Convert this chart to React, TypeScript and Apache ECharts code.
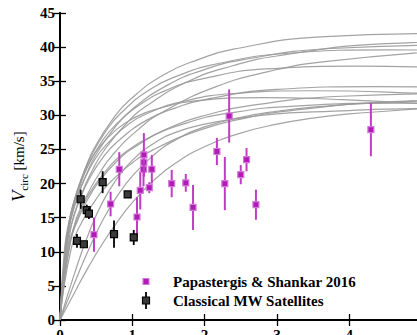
import React, { useEffect, useRef } from "react";
import * as echarts from "echarts";

// Rotation curves: [radius kpc, Vcirc km/s] pairs
const CURVE_1 = [[0,0],[0.12,13.8],[0.24,18.9],[0.36,22.5],[0.48,25.3],[0.72,29.3],[0.96,32.2],[1.44,36.0],[1.92,38.2],[2.4,39.7],[3.6,41.5],[5.18,42.0]];
const CURVE_2 = [[0,0],[0.15,13.5],[0.3,18.5],[0.45,22.0],[0.6,24.7],[0.9,28.6],[1.2,31.4],[1.8,35.1],[2.4,37.3],[3.0,38.7],[4.5,40.5],[6.48,41.0]];
const CURVE_3 = [[0,0],[0.125,13.3],[0.25,18.2],[0.375,21.6],[0.5,24.3],[0.75,28.1],[1.0,30.9],[1.5,34.5],[2.0,36.7],[2.5,38.1],[3.75,39.8],[5.4,40.3]];
const CURVE_4 = [[0,0],[0.18,13.2],[0.36,18.0],[0.54,21.4],[0.72,24.1],[1.08,27.9],[1.44,30.6],[2.16,34.2],[2.88,36.4],[3.6,37.8],[5.4,39.5]];
const CURVE_5 = [[0,0],[0.105,13.0],[0.21,17.9],[0.315,21.2],[0.42,23.8],[0.63,27.6],[0.84,30.3],[1.26,33.9],[1.68,36.0],[2.1,37.4],[3.15,39.1],[4.54,39.6],[6.3,39.2]];
const CURVE_6 = [[0,0],[0.095,12.2],[0.19,16.8],[0.285,19.9],[0.38,22.4],[0.57,26.0],[0.76,28.5],[1.14,31.8],[1.52,33.9],[1.9,35.2],[2.85,36.8],[4.1,37.2],[5.7,36.8]];
const CURVE_7 = [[0,0],[0.1,11.3],[0.2,15.4],[0.3,18.3],[0.4,20.6],[0.6,23.9],[0.8,26.2],[1.2,29.3],[1.6,31.1],[2.0,32.3],[3.0,33.8],[4.32,34.2],[6.0,33.9]];
const CURVE_8 = [[0,0],[0.08,11.1],[0.16,15.2],[0.24,18.0],[0.32,20.2],[0.48,23.5],[0.64,25.7],[0.96,28.8],[1.28,30.6],[1.6,31.8],[2.4,33.2],[3.46,33.6],[4.8,33.3],[6.4,32.5]];
const CURVE_9 = [[0,0],[0.13,10.9],[0.26,15.0],[0.39,17.8],[0.52,20.0],[0.78,23.2],[1.04,25.4],[1.56,28.4],[2.08,30.2],[2.6,31.4],[3.9,32.8],[5.62,33.2]];
const CURVE_10 = [[0,0],[0.065,10.7],[0.13,14.7],[0.195,17.5],[0.26,19.6],[0.39,22.8],[0.52,25.0],[0.78,27.9],[1.04,29.7],[1.3,30.8],[1.95,32.2],[2.81,32.6],[3.9,32.3],[5.2,31.6]];
const CURVE_11 = [[0,0],[0.16,10.7],[0.32,14.7],[0.48,17.4],[0.64,19.6],[0.96,22.7],[1.28,24.9],[1.92,27.8],[2.56,29.6],[3.2,30.7],[4.8,32.1],[6.91,32.5]];
const CURVE_12 = [[0,0],[0.11,10.5],[0.22,14.3],[0.33,17.0],[0.44,19.1],[0.66,22.2],[0.88,24.4],[1.32,27.2],[1.76,28.9],[2.2,30.1],[3.3,31.4],[4.75,31.8],[6.6,31.5]];
const CURVE_13 = [[0,0],[0.2,5.4],[0.4,10.4],[0.6,14.8],[0.8,18.3],[1.0,21.1],[1.3,24.2],[1.6,26.4],[2.0,28.3],[2.5,29.7],[3.0,30.6],[3.5,31.2],[4.0,31.6],[4.5,31.9],[5.0,32.1]];
const CURVE_14 = [[0,0],[0.2,4.0],[0.4,7.9],[0.6,11.4],[0.8,14.5],[1.0,17.2],[1.3,20.5],[1.6,23.0],[2.0,25.4],[2.5,27.4],[3.0,28.7],[3.5,29.6],[4.0,30.2],[4.5,30.6],[5.0,31.0]];
const CURVE_15 = [[0,0],[0.2,6.8],[0.4,12.8],[0.6,17.5],[0.8,20.9],[1.0,23.4],[1.3,25.9],[1.6,27.5],[2.0,28.7],[2.5,29.6],[3.0,30.2],[3.5,30.5],[4.0,30.7],[4.5,30.9],[5.0,31.0]];
const CURVES = [CURVE_1, CURVE_2, CURVE_3, CURVE_4, CURVE_5, CURVE_6, CURVE_7, CURVE_8, CURVE_9, CURVE_10, CURVE_11, CURVE_12, CURVE_13, CURVE_14, CURVE_15];

// Papastergis & Shankar 2016: [r, V, error]
const PAPASTERGIS = [
  [0.47, 12.5, 2.5], [0.70, 17.0, 1.8], [0.82, 22.1, 2.5], [1.065, 15.1, 2.9],
  [1.11, 19.0, 2.8], [1.155, 22.1, 2.5], [1.16, 23.1, 2.0], [1.16, 24.2, 3.2],
  [1.235, 19.4, 0.8], [1.27, 22.1, 2.1], [1.545, 20.0, 2.0], [1.74, 20.1, 1.3],
  [1.84, 16.5, 3.3], [2.17, 24.7, 2.0], [2.28, 20.0, 3.9], [2.34, 29.9, 3.9],
  [2.50, 21.3, 1.4], [2.58, 23.5, 1.7], [2.71, 16.9, 2.2], [4.30, 27.9, 3.9],
];

// Classical MW satellites: [r, V, error]
const MW_SATELLITES = [
  [0.235, 11.6, 1.0], [0.33, 11.1, 0.5], [0.286, 17.7, 1.4], [0.37, 16.1, 0.8],
  [0.40, 15.6, 0.8], [0.59, 20.2, 1.6], [0.747, 12.6, 2.0], [0.936, 18.4, 0.5],
  [1.02, 12.1, 1.1],
];

const LEGEND_LABELS = ["Papastergis & Shankar 2016", "Classical MW Satellites"];

const SERIF = "'Liberation Serif', 'DejaVu Serif', serif";
const MAGENTA = "#c03cc6";
const MAGENTA_FILL = "#b21ab8";

function errorSeries(data: number[][], bar: string, fill: string, stroke: string, size: number, width: number, z: number) {
  return {
    type: "custom",
    data,
    z,
    encode: { x: 0, y: 1 },
    clip: true,
    renderItem: (_p: any, api: any) => {
      const x = api.value(0);
      const y = api.value(1);
      const e = api.value(2);
      const c = api.coord([x, y]);
      const t = api.coord([x, y + e]);
      const b = api.coord([x, y - e]);
      return {
        type: "group",
        children: [
          { type: "line", shape: { x1: c[0], y1: t[1], x2: c[0], y2: b[1] }, style: { stroke: bar, lineWidth: width } },
          { type: "rect", shape: { x: c[0] - size / 2, y: c[1] - size / 2, width: size, height: size }, style: { fill, stroke, lineWidth: 1.2 } },
        ],
      };
    },
  };
}

export default function App() {
  const ref = useRef<HTMLDivElement>(null);
  useEffect(() => {
    if (!ref.current) return;
    const chart = echarts.init(ref.current, null, { renderer: "svg" });
    const axisLine = { show: true, lineStyle: { color: "#000", width: 1.8 } };
    const tick = { show: true, inside: true, length: 6, lineStyle: { color: "#000", width: 1.3 } };
    const curveSeries = CURVES.map((c) => ({
      type: "line",
      data: c,
      smooth: 0.5,
      showSymbol: false,
      symbol: "none",
      lineStyle: { color: "#999999", width: 1.2, opacity: 0.9 },
      z: 2,
      silent: true,
    }));
    chart.setOption({
      animation: false,
      backgroundColor: "#fff",
      grid: { left: 60, top: 13, width: 361.5, height: 307, outerBoundsMode: "none", containLabel: false },
      xAxis: [
        {
          type: "value", min: 0, max: 5, interval: 1, position: "bottom",
          axisLine, axisTick: tick, splitLine: { show: false },
          axisLabel: { color: "#000", fontFamily: SERIF, fontWeight: "bold", fontSize: 15, margin: 7 },
        },
        {
          type: "value", min: 0, max: 5, interval: 1, position: "top",
          axisLine, axisTick: tick, splitLine: { show: false }, axisLabel: { show: false },
        },
      ],
      yAxis: [
        {
          type: "value", min: 0, max: 45, interval: 5, position: "left",
          axisLine, axisTick: tick, splitLine: { show: false },
          axisLabel: { color: "#000", fontFamily: SERIF, fontWeight: "bold", fontSize: 15, margin: 5 },
          name: "{a|V}{b|circ}{c| [km/s]}",
          nameLocation: "middle",
          nameGap: 24,
          nameTextStyle: {
            rich: {
              a: { fontFamily: SERIF, fontStyle: "italic", fontSize: 18, color: "#000", lineHeight: 20 },
              b: { fontFamily: SERIF, fontSize: 11, color: "#000", padding: [9, 0, 0, 0], lineHeight: 20 },
              c: { fontFamily: SERIF, fontSize: 15, color: "#000", lineHeight: 20 },
            },
          },
        },
        {
          type: "value", min: 0, max: 45, interval: 5, position: "right",
          axisLine, axisTick: tick, splitLine: { show: false }, axisLabel: { show: false },
        },
      ],
      series: [
        ...curveSeries,
        errorSeries(PAPASTERGIS, MAGENTA, MAGENTA_FILL, "#d27ad8", 6, 2, 5),
        errorSeries(MW_SATELLITES, "#000", "#3a3a3a", "#000", 7, 1.8, 6),
      ],
      graphic: [
        { type: "rect", shape: { x: 143, y: 278.5, width: 6, height: 6 }, style: { fill: MAGENTA_FILL, stroke: "#d27ad8", lineWidth: 1.2 } },
        { type: "line", shape: { x1: 146, y1: 292, x2: 146, y2: 309 }, style: { stroke: "#000", lineWidth: 1.8 } },
        { type: "rect", shape: { x: 142.5, y: 297, width: 7, height: 7 }, style: { fill: "#3a3a3a", stroke: "#000", lineWidth: 1.2 } },
        { type: "text", x: 173, y: 281.5, style: { text: LEGEND_LABELS[0], font: `bold 15px ${SERIF}`, fill: "#000", verticalAlign: "middle" } },
        { type: "text", x: 173, y: 300.5, style: { text: LEGEND_LABELS[1], font: `bold 15px ${SERIF}`, fill: "#000", verticalAlign: "middle" } },
      ],
    });
    return () => chart.dispose();
  }, []);
  return <div ref={ref} style={{ position: "absolute", left: 0, top: 0, width: 417, height: 335 }} />;
}
